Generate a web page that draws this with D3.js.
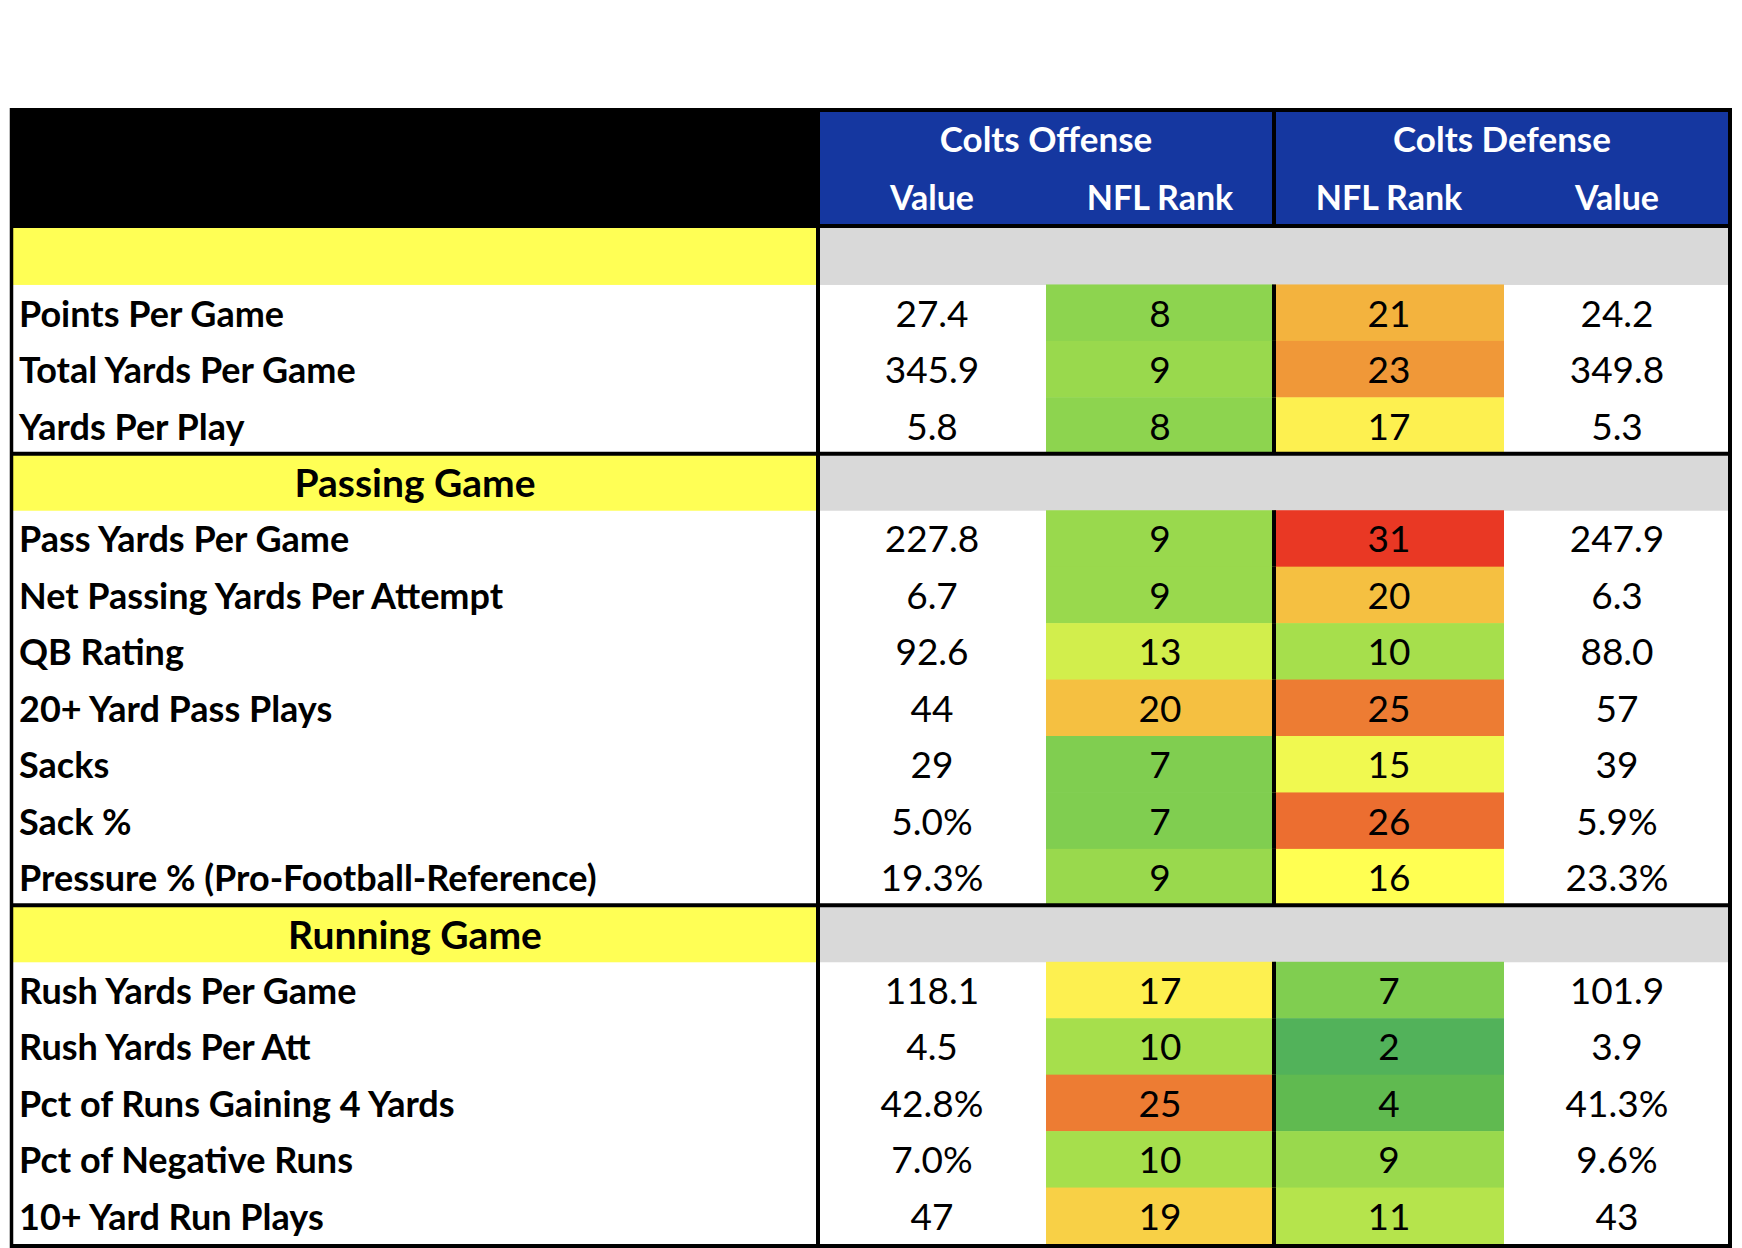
<!DOCTYPE html>
<html lang="en">
<head>
    <meta charset="UTF-8">
    <title>Colts Offense vs Defense</title>
    <script src="https://cdnjs.cloudflare.com/ajax/libs/d3/7.8.5/d3.min.js"></script>
    <style>
        body { margin: 0; background: #fff; }
        svg text { font-family: Lato, "Open Sans", sans-serif; }
    </style>
</head>
<body>
    <div id="chart"></div>

    <script>
        // Table content
        const sections = ["", "Passing Game", "Running Game"];
        const sectionStats = [
            ["Points Per Game", "Total Yards Per Game", "Yards Per Play"],
            ["Pass Yards Per Game", "Net Passing Yards Per Attempt", "QB Rating", "20+ Yard Pass Plays",
             "Sacks", "Sack %", "Pressure % (Pro-Football-Reference)"],
            ["Rush Yards Per Game", "Rush Yards Per Att", "Pct of Runs Gaining 4 Yards",
             "Pct of Negative Runs", "10+ Yard Run Plays"]
        ];
        const offValues = ["27.4", "345.9", "5.8", "227.8", "6.7", "92.6", "44", "29", "5.0%", "19.3%",
                           "118.1", "4.5", "42.8%", "7.0%", "47"];
        const offRanks = [8, 9, 8, 9, 9, 13, 20, 7, 7, 9, 17, 10, 25, 10, 19];
        const defRanks = [21, 23, 17, 31, 20, 10, 25, 15, 26, 16, 7, 2, 4, 9, 11];
        const defValues = ["24.2", "349.8", "5.3", "247.9", "6.3", "88.0", "57", "39", "5.9%", "23.3%",
                           "101.9", "3.9", "41.3%", "9.6%", "43"];
        const groupHeaders = ["Colts Offense", "Colts Defense"];
        const colHeaders = ["Value", "NFL Rank", "NFL Rank", "Value"];

        // rank -> fill (green good, yellow middle, red bad)
        const rankColor = d3.scaleLinear()
            .domain([2, 4, 7, 10, 13, 16, 17, 20, 23, 26, 31])
            .range(["#52b25a", "#60ba50", "#80ce50", "#a6df4c", "#d2ee4c", "#ffff52",
                     "#fdf050", "#f5c041", "#f09838", "#ec6e30", "#e93824"])
            .clamp(true);

        // flatten into rows
        const rows = [];
        let k = 0;
        sections.forEach((s, i) => {
            rows.push({ type: "section", label: s });
            sectionStats[i].forEach(label => {
                rows.push({ type: "stat", label, cells: [offValues[k], offRanks[k], defRanks[k], defValues[k]] });
                k++;
            });
        });

        const width = 1742, height = 1248;
        const tLeft = 12, tRight = 1730, tTop = 108, headBottom = 228, tBottom = 1246;
        const colEdges = [tLeft, 818, 1046, 1274, 1504, tRight];

        const svg = d3.select("#chart").append("svg")
            .attr("width", width)
            .attr("height", height);

        const y = d3.scaleBand()
            .domain(d3.range(rows.length))
            .range([headBottom, tBottom - 2]);

        // header block
        svg.append("rect")
            .attr("x", tLeft - 2).attr("y", tTop)
            .attr("width", tRight - tLeft + 4).attr("height", headBottom - tTop)
            .attr("fill", "#000");

        [[colEdges[1] + 2, colEdges[3] - 2], [colEdges[3] + 2, tRight - 2]].forEach(([x0, x1], i) => {
            svg.append("rect")
                .attr("x", x0).attr("y", tTop + 4)
                .attr("width", x1 - x0).attr("height", headBottom - tTop - 8)
                .attr("fill", "#1537a0");
            svg.append("text")
                .attr("x", (x0 + x1) / 2).attr("y", 152)
                .attr("text-anchor", "middle")
                .attr("fill", "#fff")
                .style("font-size", "35px").style("font-weight", "bold")
                .text(groupHeaders[i]);
        });

        colHeaders.forEach((h, i) => {
            svg.append("text")
                .attr("x", (colEdges[i + 1] + colEdges[i + 2]) / 2).attr("y", 210)
                .attr("text-anchor", "middle")
                .attr("fill", "#fff")
                .style("font-size", "34px").style("font-weight", "bold")
                .text(h);
        });

        // body rows
        const rowG = svg.selectAll("g.row")
            .data(rows)
            .join("g")
            .attr("class", "row")
            .attr("transform", (d, i) => `translate(0,${y(i)})`);

        const h = y.bandwidth();
        const base = h / 2 + 14;

        rowG.filter(d => d.type === "section").each(function(d) {
            const g = d3.select(this);
            g.append("rect").attr("x", tLeft).attr("width", colEdges[1] - tLeft).attr("height", h + 0.5).attr("fill", "#ffff55");
            g.append("rect").attr("x", colEdges[1]).attr("width", tRight - colEdges[1]).attr("height", h + 0.5).attr("fill", "#d9d9d9");
            g.append("text")
                .attr("x", (tLeft + colEdges[1]) / 2).attr("y", base + 1)
                .attr("text-anchor", "middle")
                .style("font-size", "39px").style("font-weight", "bold")
                .text(d.label);
        });

        rowG.filter(d => d.type === "stat").each(function(d) {
            const g = d3.select(this);
            g.append("text")
                .attr("x", tLeft + 7).attr("y", base)
                .style("font-size", "36px").style("font-weight", "bold")
                .text(d.label);
            d.cells.forEach((c, j) => {
                const x0 = colEdges[j + 1], x1 = colEdges[j + 2];
                if (j === 1 || j === 2) {
                    g.append("rect")
                        .attr("x", x0).attr("width", x1 - x0)
                        .attr("height", h + 0.5)
                        .attr("fill", rankColor(c));
                }
                g.append("text")
                    .attr("x", (x0 + x1) / 2).attr("y", base)
                    .attr("text-anchor", "middle")
                    .style("font-size", "37px")
                    .text(c);
            });
        });

        // grid lines
        const line = (x1, y1, x2, y2, w) => svg.append("line")
            .attr("x1", x1).attr("y1", y1).attr("x2", x2).attr("y2", y2)
            .attr("stroke", "#000").attr("stroke-width", w);

        line(tLeft - 0.5, tTop, tLeft - 0.5, tBottom + 2, 3.5);
        line(tRight, tTop, tRight, tBottom + 2, 4);
        line(colEdges[1], headBottom - 2, colEdges[1], tBottom, 4);
        rows.forEach((d, i) => {
            if (d.type === "stat") line(colEdges[3], y(i), colEdges[3], y(i) + h, 4);
        });
        rows.forEach((d, i) => {
            if (d.type === "section" && i > 0) line(tLeft - 2, y(i), tRight + 2, y(i), 4);
        });
        line(tLeft - 2, tBottom, tRight + 2, tBottom, 4);
    </script>
</body>
</html>
